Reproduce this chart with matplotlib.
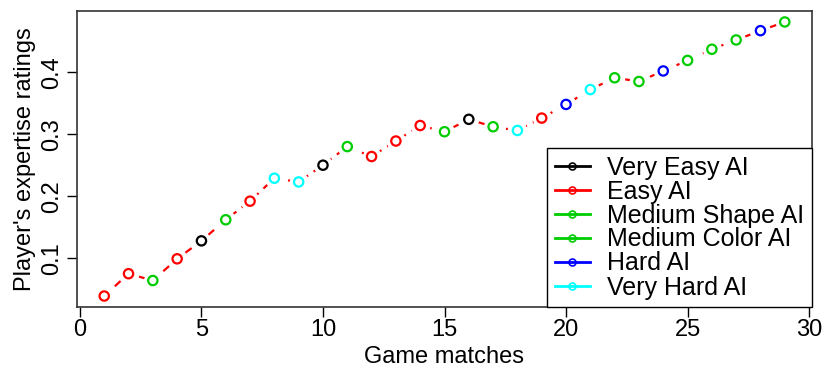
import numpy as np
import matplotlib
matplotlib.use("Agg")
import matplotlib.pyplot as plt
from matplotlib.lines import Line2D

plt.rcParams['font.family'] = ['Liberation Sans Narrow', 'Liberation Sans', 'DejaVu Sans']

# game match number and rating
matches = np.arange(1, 30)
ratings = [0.039, 0.075, 0.064, 0.099, 0.128, 0.162, 0.192, 0.229, 0.223, 0.250,
           0.280, 0.264, 0.289, 0.314, 0.304, 0.324, 0.312, 0.306, 0.326, 0.348,
           0.372, 0.391, 0.385, 0.402, 0.419, 0.437, 0.452, 0.467, 0.481]
# opponent AI used in each match
opponent = ["easy", "easy", "mshape", "easy", "veasy", "mcolor", "easy", "vhard", "vhard", "veasy",
            "mshape", "easy", "easy", "easy", "mcolor", "veasy", "mshape", "vhard", "easy", "hard",
            "vhard", "mcolor", "mshape", "hard", "mcolor", "mshape", "mcolor", "hard", "mshape"]

ai_keys = ["veasy", "easy", "mshape", "mcolor", "hard", "vhard"]
ai_names = ["Very Easy AI", "Easy AI", "Medium Shape AI", "Medium Color AI", "Hard AI", "Very Hard AI"]
ai_cols = ["black", "#FF0000", "#00CD00", "#00CD00", "#0000FF", "#00FFFF"]
colmap = dict(zip(ai_keys, ai_cols))

fig = plt.figure(figsize=(8.25, 3.69), dpi=100)
ax = fig.add_axes([77/825, 1-307/369, (812-77)/825, (307-11)/369])

ax.plot(matches, ratings, color="#FF0000", lw=1.6, dashes=(3.5, 3), zorder=1)
ax.scatter(matches, ratings, s=170, color="white", zorder=2)
ax.scatter(matches, ratings, s=45, facecolors="white",
           edgecolors=[colmap[o] for o in opponent], linewidths=1.6, zorder=3)

ax.set_xlim(-0.12, 30.12)
ax.set_ylim(0.0213, 0.4987)
ax.set_xticks([0, 5, 10, 15, 20, 25, 30])
ax.set_yticks([0.1, 0.2, 0.3, 0.4])
ax.set_yticklabels(["0.1", "0.2", "0.3", "0.4"], rotation=90, va="center")
ax.tick_params(labelsize=17, length=7, width=1, direction="out")
ax.tick_params(axis="x", pad=2)
ax.tick_params(axis="y", pad=3)
for s in ax.spines.values():
    s.set_linewidth(1.2)
    s.set_color("#333333")

ax.set_xlabel("Game matches", fontsize=17, labelpad=3)
ax.set_ylabel("Player's expertise ratings", fontsize=17, labelpad=4)

handles = [Line2D([0], [0], color=c, lw=2, marker="o", markersize=5,
                  markerfacecolor="none", markeredgewidth=1.2) for c in ai_cols]
leg = ax.legend(handles, ai_names, loc="lower right", bbox_to_anchor=(1, 0),
                borderaxespad=0, fontsize=18, fancybox=False, framealpha=1,
                handlelength=1.4, handletextpad=0.7, labelspacing=0.0,
                borderpad=0.3)
leg.get_frame().set_edgecolor("black")
leg.get_frame().set_linewidth(1)

fig.savefig("out.png", dpi=100)
